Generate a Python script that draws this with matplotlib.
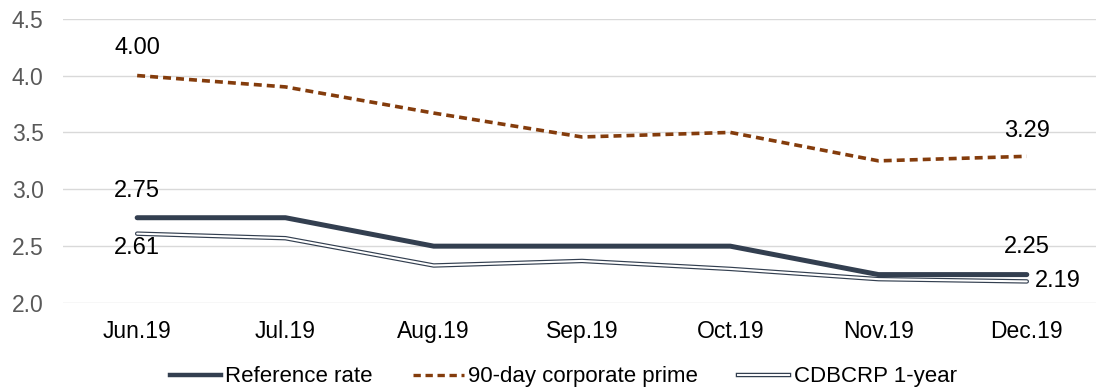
import matplotlib.pyplot as plt
from matplotlib.lines import Line2D

months = ["Jun.19", "Jul.19", "Aug.19", "Sep.19", "Oct.19", "Nov.19", "Dec.19"]
reference_rate = [2.75, 2.75, 2.50, 2.50, 2.50, 2.25, 2.25]
corporate_prime = [4.00, 3.90, 3.67, 3.46, 3.50, 3.25, 3.29]
cdbcrp_1y = [2.61, 2.57, 2.33, 2.37, 2.30, 2.21, 2.19]

dark = "#333f50"
brown = "#843c0c"


def main():
    plt.rcParams["font.family"] = ["Liberation Sans", "DejaVu Sans"]
    fig = plt.figure(figsize=(10.96, 3.89), dpi=100)
    ax = fig.add_axes([0.0575, 0.221, 0.947, 0.731])

    x = list(range(len(months)))
    ax.plot(x, reference_rate, color=dark, lw=3.6, solid_capstyle="round", zorder=3)
    ax.plot(x, corporate_prime, color=brown, lw=2.6, ls=(0, (2.2, 1.4)), zorder=3)
    ax.plot(x, cdbcrp_1y, color=dark, lw=3.2, solid_capstyle="round", zorder=2)
    ax.plot(x, cdbcrp_1y, color="white", lw=1.5, solid_capstyle="round", zorder=2)

    ax.set_xlim(-0.5, len(months) - 0.5)
    ax.set_ylim(2.0, 4.5)
    ax.set_yticks([2.0, 2.5, 3.0, 3.5, 4.0, 4.5])
    ax.set_yticklabels(["2.0", "2.5", "3.0", "3.5", "4.0", "4.5"])
    ax.set_xticks(x)
    ax.set_xticklabels(months)
    ax.tick_params(axis="y", length=0, pad=14, labelsize=16.5, labelcolor="#595959")
    ax.tick_params(axis="x", length=0, pad=12, labelsize=16.5, labelcolor="#000000")
    ax.grid(axis="y", color="#d9d9d9", lw=1)
    ax.set_axisbelow(True)
    for s in ax.spines.values():
        s.set_visible(False)

    fs = 17
    ax.annotate("4.00", (0, corporate_prime[0]), xytext=(0, 20), textcoords="offset points",
                ha="center", va="center", fontsize=fs)
    ax.annotate("2.75", (0, reference_rate[0]), xytext=(0, 19.5), textcoords="offset points",
                ha="center", va="center", fontsize=fs)
    ax.annotate("2.61", (0, cdbcrp_1y[0]), xytext=(0, -10.5), textcoords="offset points",
                ha="center", va="center", fontsize=fs)
    ax.annotate("3.29", (6, corporate_prime[6]), xytext=(0, 18), textcoords="offset points",
                ha="center", va="center", fontsize=fs)
    ax.annotate("2.25", (6, reference_rate[6]), xytext=(0, 20), textcoords="offset points",
                ha="center", va="center", fontsize=fs)
    ax.annotate("2.19", (6, cdbcrp_1y[6]), xytext=(6, 0), textcoords="offset points",
                ha="left", va="center", fontsize=fs)

    h1 = Line2D([], [], color=dark, lw=3.2)
    h2 = Line2D([], [], color=brown, lw=2.4, ls=(0, (2.2, 1.4)))
    h3 = (Line2D([], [], color=dark, lw=3.2), Line2D([], [], color="white", lw=1.4))
    fig.legend([h1, h2, h3], ["Reference rate", "90-day corporate prime", "CDBCRP 1-year"],
               loc="center", bbox_to_anchor=(0.514, 0.031), ncol=3, frameon=False,
               fontsize=16, handlelength=2.3, handletextpad=0.2, columnspacing=1.8)

    fig.savefig("out.png", dpi=100)


if __name__ == "__main__":
    main()
